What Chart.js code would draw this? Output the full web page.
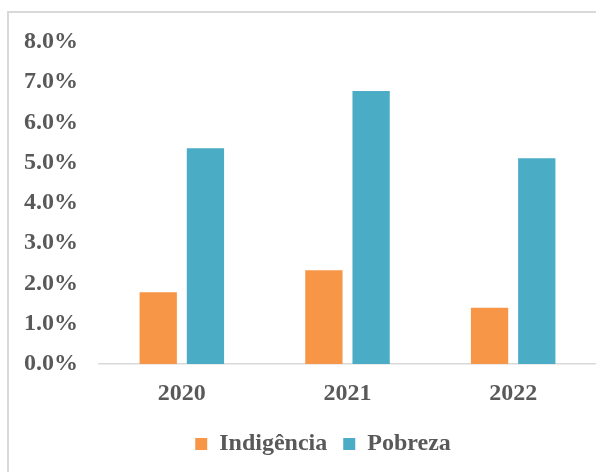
<!DOCTYPE html>
<html>
<head>
<meta charset="utf-8">
<script src="https://cdn.jsdelivr.net/npm/chart.js@4/dist/chart.umd.min.js"></script>
<style>
  html, body { margin: 0; padding: 0; background: #ffffff; overflow: hidden; }
  #wrap { position: relative; width: 596px; height: 472px; }
  #frame { position: absolute; left: 7px; top: 11px; width: 700px; height: 600px;
           border-left: 2px solid #d9d9d9; border-top: 2px solid #d9d9d9; box-sizing: border-box; }
  #c { position: absolute; left: 0; top: 0; }
</style>
</head>
<body>
<div id="wrap">
  <div id="frame"></div>
  <canvas id="c" width="596" height="472"></canvas>
</div>
<script>
const categories = ['2020', '2021', '2022'];
const indigencia = [1.78, 2.33, 1.40];
const pobreza = [5.36, 6.78, 5.11];
const seriesNames = ['Indigência', 'Pobreza'];
const yTickMax = 8;
const yTickStep = 1;

const FONT = { family: "'Liberation Serif', 'Times New Roman', serif", size: 24, weight: 'bold' };
const TEXT = '#595959';

const legendShift = {
  id: 'legendShift',
  afterLayout(chart) {
    const lg = chart.legend;
    if (lg) { lg.left += 25; lg.right += 25; }
  }
};

new Chart(document.getElementById('c'), {
  type: 'bar',
  data: {
    labels: categories,
    datasets: [
      { label: seriesNames[0], data: indigencia, backgroundColor: '#F79646', categoryPercentage: 0.57, barPercentage: 0.79 },
      { label: seriesNames[1], data: pobreza, backgroundColor: '#4BACC6', categoryPercentage: 0.57, barPercentage: 0.79 }
    ]
  },
  plugins: [legendShift],
  options: {
    responsive: false,
    animation: false,
    devicePixelRatio: 1,
    layout: { padding: { left: 0, right: 0, top: 42, bottom: 6 } },
    plugins: {
      legend: {
        position: 'bottom',
        labels: { font: FONT, color: TEXT, boxWidth: 12, boxHeight: 12, padding: 16 }
      },
      tooltip: { enabled: false }
    },
    scales: {
      x: {
        grid: { display: false, drawTicks: false },
        border: { display: true, color: '#d9d9d9', width: 1.5 },
        ticks: { font: FONT, color: TEXT, padding: 15, maxRotation: 0 },
        afterFit: (s) => { s.height = 52; }
      },
      y: {
        min: 0, max: yTickMax,
        grid: { display: false, drawTicks: false },
        border: { display: false },
        ticks: { stepSize: yTickStep, font: FONT, color: TEXT, padding: 21,
                 callback: (v) => Number(v).toFixed(1) + '%' },
        afterFit: (s) => { s.width = 99; }
      }
    }
  }
});
</script>
</body>
</html>
